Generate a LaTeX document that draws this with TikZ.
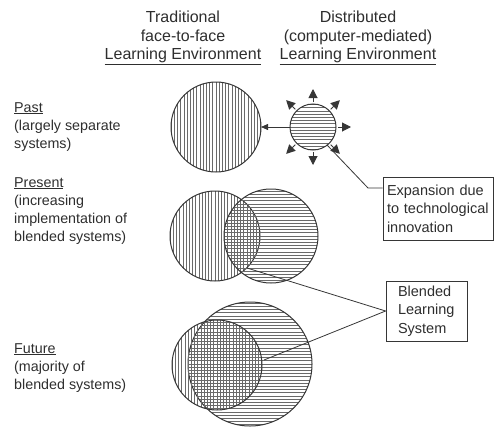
\documentclass[tikz,border=0pt]{standalone}
\usepackage{fontspec}
\setmainfont{Liberation Sans}
\usetikzlibrary{arrows.meta}
\definecolor{ink}{HTML}{363636}
\definecolor{txtc}{HTML}{2E2E2E}
\definecolor{hatchc}{HTML}{6A6A6A}
\tikzset{
  hdr/.style={font=\fontsize{16}{18.5}\selectfont, text=txtc, inner sep=0pt, align=center},
  lbl/.style={font=\fontsize{14.3}{18}\selectfont, text=txtc, inner sep=0pt, align=left, anchor=north west},
  hatchline/.style={draw=hatchc, line width=0.9pt},
  ring/.style={circle, draw=ink, line width=1pt, inner sep=0pt, outer sep=0pt},
  vc/.style={ring, path picture={\foreach \k in {-21,...,21}{\draw[hatchline] (path picture bounding box.center) ++({3.2*\k},-70) -- ++(0,140);}}},
  hc/.style={ring, path picture={\foreach \k in {-21,...,21}{\draw[hatchline] (path picture bounding box.center) ++(-70,{3.2*\k}) -- ++(140,0);}}},
  conn/.style={draw=ink, line width=0.8pt},
  spike/.style={draw=ink, line width=1pt, -{Triangle[length=9pt,width=9pt]}},
  note/.style={draw=ink, line width=0.8pt, font=\fontsize{14.5}{18.5}\selectfont, text=txtc, align=left}
}
\begin{document}
\begin{tikzpicture}[x=1pt,y=-1pt]
\useasboundingbox (0,0) rectangle (494,428);
% headers
\node[hdr] (ht) at (183,38) {Traditional\\face-to-face\\\underline{Learning Environment}};
\node[hdr] (hd) at (358,38) {Distributed\\(computer-mediated)\\\underline{Learning Environment}};
% row labels
\node[lbl] (lp) at (14,102) {\underline{Past}\\(largely separate\\systems)};
\node[lbl] (ln) at (14,177) {\underline{Present}\\(increasing\\implementation of\\blended systems)};
\node[lbl] (lf) at (14,343) {\underline{Future}\\(majority of\\blended systems)};
% past
\node[vc, minimum size=90pt] (p1) at (216,127) {};
\node[hc, minimum size=46pt] (p2) at (313,127) {};
\foreach \a in {0,45,90,135,225,270,315}
  \draw[spike] (p2.center) ++(\a:25) -- ++(\a:13);
\draw[conn, -{Triangle[length=7pt,width=6pt]}] (p2.west) -- (p1.east);
% present
\node[vc, minimum size=90pt] (n1) at (215,236) {};
\node[hc, minimum size=94pt] (n2) at (271,236) {};
% future
\node[hc, minimum size=124pt] (f2) at (250,364) {};
\node[vc, minimum size=90pt] (f1) at (217,365) {};
% notes
\node[note, text width=102pt, inner xsep=4pt, minimum height=63pt] (e) at (438,208.5) {Expansion due\\to technological\\innovation};
\node[note, text width=57pt, inner xsep=12pt, minimum height=60pt] (bl) at (426.5,311) {Blended\\Learning\\System};
% connectors
\coordinate (k1) at (368,188);
\draw[conn] (p2.-52) -- (k1) -- (k1 -| e.west);
\coordinate (b1) at (247,268);
\coordinate (b2) at (264,360);
\draw[conn] (b1) -- (bl.west);
\draw[conn] (b2) -- (bl.west);
\end{tikzpicture}
\end{document}
